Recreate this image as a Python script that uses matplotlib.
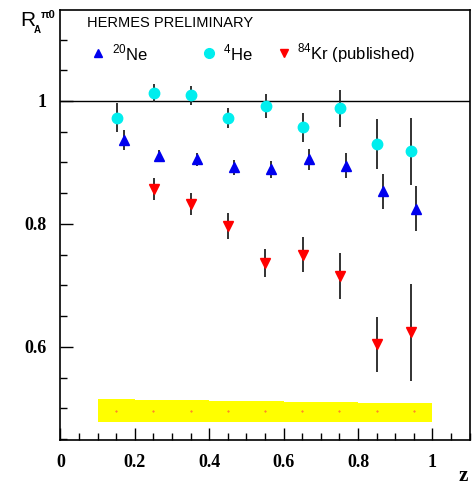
#!/usr/bin/env python3

import matplotlib
matplotlib.use('Agg')
import matplotlib.pyplot as plt
from matplotlib.ticker import MultipleLocator

# 20Ne
ne_z = [0.17, 0.266, 0.367, 0.466, 0.566, 0.667, 0.767, 0.867, 0.956]
ne_r = [0.937, 0.911, 0.905, 0.892, 0.889, 0.905, 0.895, 0.853, 0.825]
ne_err = [0.016, 0.009, 0.010, 0.012, 0.014, 0.017, 0.020, 0.028, 0.037]

# 4He
he_z = [0.151, 0.252, 0.352, 0.451, 0.552, 0.652, 0.752, 0.851, 0.942]
he_r = [0.973, 1.013, 1.009, 0.972, 0.992, 0.957, 0.988, 0.930, 0.918]
he_err = [0.024, 0.015, 0.015, 0.016, 0.020, 0.024, 0.030, 0.040, 0.055]

# 84Kr (published)
kr_z = [0.252, 0.352, 0.451, 0.551, 0.652, 0.752, 0.851, 0.942]
kr_r = [0.857, 0.833, 0.797, 0.736, 0.750, 0.715, 0.604, 0.624]
kr_err = [0.018, 0.018, 0.021, 0.023, 0.028, 0.037, 0.045, 0.079]

# systematic band
band_edges = [0.1, 0.2, 0.3, 0.4, 0.5, 0.6, 0.7, 0.8, 0.9, 1.0]
band_lo = [0.477, 0.477, 0.477, 0.477, 0.477, 0.477, 0.477, 0.477, 0.477]
band_hi = [0.515, 0.514, 0.513, 0.512, 0.512, 0.511, 0.510, 0.509, 0.509]
band_z = [0.15, 0.25, 0.35, 0.45, 0.55, 0.65, 0.75, 0.85, 0.95]
band_mid = [0.496] * 9

fig = plt.figure(figsize=(4.72, 4.86), dpi=100)
ax = fig.add_axes([0.1278, 0.0947, 0.8680, 0.8847])

for i in range(len(band_lo)):
    ax.fill_between([band_edges[i], band_edges[i + 1]], band_lo[i], band_hi[i],
                    color='#ffff00', lw=0, zorder=1)
ax.plot(band_z, band_mid, ls='none', marker='.', ms=0.8, color='#ff4040', zorder=2)

ax.axhline(1.0, color='black', lw=1.0, zorder=2)

ax.errorbar(he_z, he_r, yerr=he_err, fmt='o', color='#00eeee', ms=7.5,
            ecolor='#222222', elinewidth=1.3, capsize=0, zorder=3)
ax.errorbar(ne_z, ne_r, yerr=ne_err, fmt='^', color='#0000ee', ms=7.5,
            ecolor='#222222', elinewidth=1.3, capsize=0, zorder=3)
ax.errorbar(kr_z, kr_r, yerr=kr_err, fmt='v', color='#ff0000', ms=7.5,
            ecolor='#222222', elinewidth=1.3, capsize=0, zorder=3)

ax.set_xlim(0, 1.101)
ax.set_ylim(0.4484, 1.148)

ax.xaxis.set_major_locator(MultipleLocator(0.2))
ax.xaxis.set_minor_locator(MultipleLocator(0.05))
ax.yaxis.set_major_locator(MultipleLocator(0.2))
ax.yaxis.set_minor_locator(MultipleLocator(0.05))
ax.tick_params(which='both', direction='in', top=False, right=False)
ax.tick_params(which='major', length=9, width=1)
ax.tick_params(which='minor', length=5, width=1)
ax.tick_params(axis='x', pad=10)
ax.tick_params(axis='y', pad=10)

ax.set_xticks([0, 0.2, 0.4, 0.6, 0.8, 1.0])
ax.set_xticklabels(['0', '0.2', '0.4', '0.6', '0.8', '1'])
ax.set_yticks([0.6, 0.8, 1.0])
ax.set_yticklabels(['0.6', '0.8', '1'])
for lab in ax.get_xticklabels() + ax.get_yticklabels():
    lab.set_fontfamily('Liberation Serif')
    lab.set_fontweight('bold')
    lab.set_fontsize(13)

for sp in ax.spines.values():
    sp.set_linewidth(1.2)

fig.text(463 / 472, 1 - 476 / 486, 'z', fontfamily='Liberation Serif',
         fontweight='bold', fontsize=15, ha='center', va='center')
# y axis title R_A^pi0, pieces placed by hand
fig.text(20 / 472, 1 - 21 / 486, 'R', fontfamily='Liberation Sans',
         fontsize=15, ha='left', va='center')
fig.text(34 / 472, 1 - 30 / 486, 'A', fontfamily='Liberation Sans',
         fontsize=7, fontweight='bold', ha='left', va='center')
fig.text(41 / 472, 1 - 15 / 486, '\u03c00', fontfamily='Liberation Sans',
         fontsize=8, fontweight='bold', ha='left', va='center')

ax.text(0.072, 1.127, 'HERMES PRELIMINARY', fontfamily='Liberation Sans',
        fontsize=10.5, ha='left', va='center')

# legend drawn by hand
ax.plot([0.101], [1.078], ls='none', marker='^', color='#0000ee', ms=6)
ax.text(0.138, 1.078, r'$^{\mathregular{20}}$Ne', fontfamily='Liberation Sans',
        fontsize=12, ha='left', va='center')
ax.plot([0.4], [1.078], ls='none', marker='o', color='#00eeee', ms=7)
ax.text(0.437, 1.078, r'$^{\mathregular{4}}$He', fontfamily='Liberation Sans',
        fontsize=12, ha='left', va='center')
ax.plot([0.6], [1.078], ls='none', marker='v', color='#ff0000', ms=6)
ax.text(0.637, 1.078, r'$^{\mathregular{84}}$Kr (published)', fontfamily='Liberation Sans',
        fontsize=12, ha='left', va='center')

fig.savefig('out.png', dpi=100)
